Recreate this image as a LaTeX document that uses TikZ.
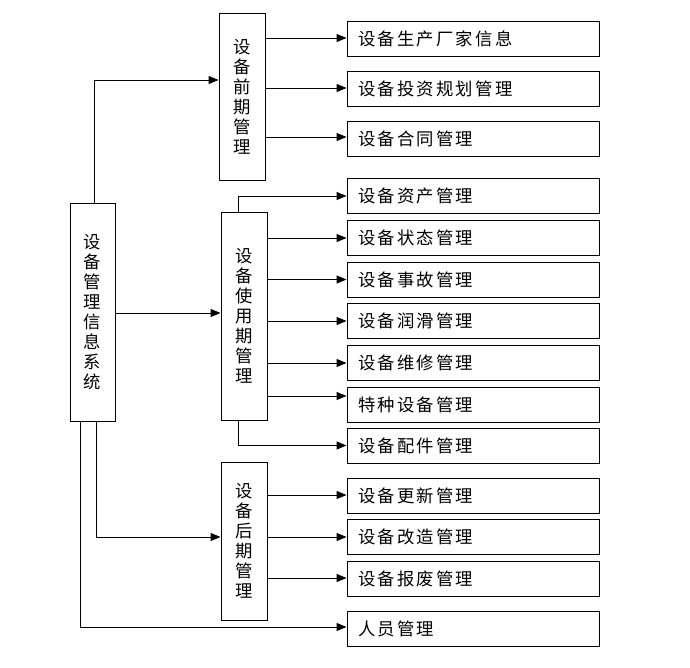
\documentclass[tikz,border=0pt]{standalone}
\usepackage{fontspec}
\newfontfamily\cjk{Noto Sans CJK SC}
\newfontfamily\cjkls[LetterSpace=13]{Noto Sans CJK SC}
\usetikzlibrary{arrows.meta}
\begin{document}
\begin{tikzpicture}[x=0.75pt,y=-0.75pt,
  line width=0.7pt,
  vbox/.style={draw, minimum width=46*0.75pt, inner sep=0pt, align=center,
    font=\cjk\fontsize{13pt}{15pt}\selectfont},
  rbox/.style={draw, minimum height=35*0.75pt, text width=230*0.75pt,
    inner xsep=11*0.75pt, inner ysep=0pt, align=left,
    font=\cjkls\fontsize{13pt}{15pt}\selectfont},
  arr/.style={-{Triangle[length=7.5pt,width=6pt]}}]
\useasboundingbox (0,0) rectangle (690,668);

% left column
\node[vbox, minimum width=45*0.75pt, minimum height=218*0.75pt] (main) at (92.5,312)
  {设\\备\\管\\理\\信\\息\\系\\统};
\node[vbox, minimum height=167*0.75pt] (A) at (242,96.5) {设\\备\\前\\期\\管\\理};
\node[vbox, minimum height=208*0.75pt] (B) at (244,316) {设\\备\\使\\用\\期\\管\\理};
\node[vbox, minimum height=158*0.75pt] (C) at (244,541) {设\\备\\后\\期\\管\\理};

% right column
\node[rbox] (r1) at (473,39) {设备生产厂家信息};
\node[rbox] (r2) at (473,88.5) {设备投资规划管理};
\node[rbox] (r3) at (473,138.5) {设备合同管理};
\node[rbox] (r4) at (473,196) {设备资产管理};
\node[rbox] (r5) at (473,238) {设备状态管理};
\node[rbox] (r6) at (473,279.5) {设备事故管理};
\node[rbox] (r7) at (473,321) {设备润滑管理};
\node[rbox] (r8) at (473,363) {设备维修管理};
\node[rbox] (r9) at (473,404.5) {特种设备管理};
\node[rbox] (r10) at (473,445.5) {设备配件管理};
\node[rbox] (r11) at (473,496) {设备更新管理};
\node[rbox] (r12) at (473,537) {设备改造管理};
\node[rbox] (r13) at (473,579) {设备报废管理};
\node[rbox] (r14) at (473,628.5) {人员管理};

% main connectors
\draw[arr] (main.north -| 94,0) |- (A.west |- 0,80);
\draw[arr] (main.east |- 0,313) -- (B.west |- 0,313);
\draw[arr] (main.south -| 96,0) |- (C.west |- 0,537);
\draw[arr] (main.south -| 80,0) |- (r14.west |- 0,627);

% A
\draw[arr] (A.east |- 0,38) -- (r1.west |- 0,38);
\draw[arr] (A.east |- 0,88) -- (r2.west |- 0,88);
\draw[arr] (A.east |- 0,137) -- (r3.west |- 0,137);

% B
\draw[arr] (B.north -| 238,0) |- (r4.west);
\draw[arr] (B.east |- r5.west) -- (r5.west);
\draw[arr] (B.east |- r6.west) -- (r6.west);
\draw[arr] (B.east |- r7.west) -- (r7.west);
\draw[arr] (B.east |- r8.west) -- (r8.west);
\draw[arr] (B.east |- 0,396) -- (r9.west |- 0,396);
\draw[arr] (B.south -| 238,0) |- (r10.west);

% C
\draw[arr] (C.east |- 0,495) -- (r11.west |- 0,495);
\draw[arr] (C.east |- r12.west) -- (r12.west);
\draw[arr] (C.east |- 0,578) -- (r13.west |- 0,578);
\end{tikzpicture}
\end{document}
